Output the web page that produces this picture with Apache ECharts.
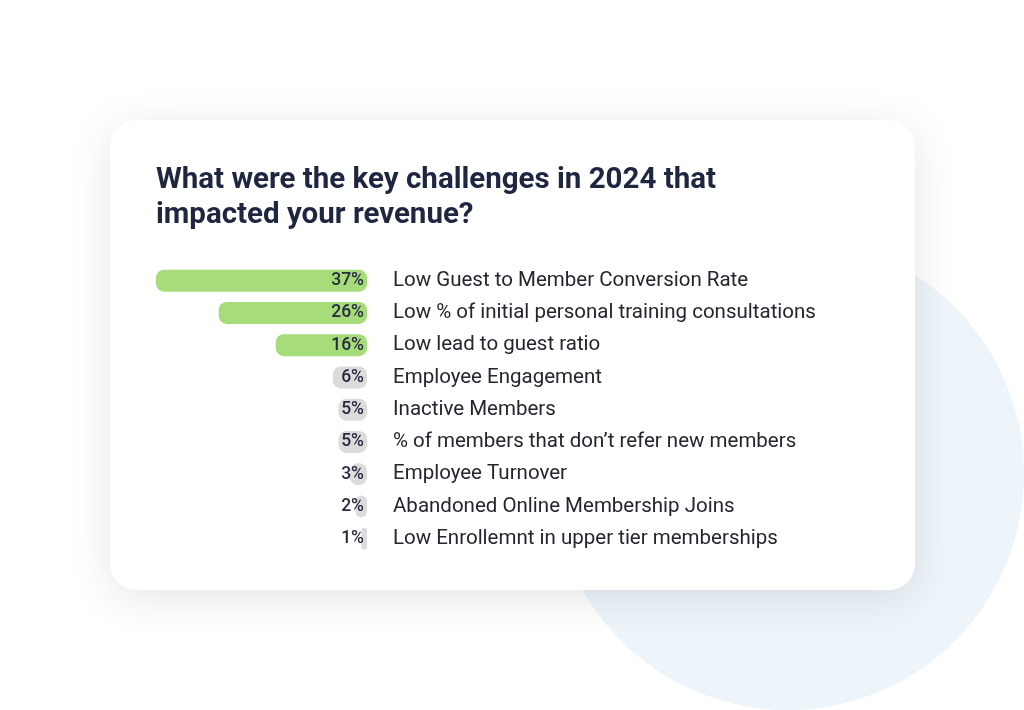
<!DOCTYPE html>
<html>
<head>
<meta charset="utf-8">
<script src="https://cdn.jsdelivr.net/npm/echarts@6/dist/echarts.min.js"></script>
<style>
html,body{margin:0;padding:0;background:#ffffff;}
#chart{width:1024px;height:710px;}
</style>
</head>
<body>
<div id="chart"></div>
<script>
const categories = [
  "Low Guest to Member Conversion Rate",
  "Low % of initial personal training consultations",
  "Low lead to guest ratio",
  "Employee Engagement",
  "Inactive Members",
  "% of members that don\u2019t refer new members",
  "Employee Turnover",
  "Abandoned Online Membership Joins",
  "Low Enrollemnt in upper tier memberships"
];
const values = [37, 26, 16, 6, 5, 5, 3, 2, 1];
const highlighted = [true, true, true, false, false, false, false, false, false];
const titleText = "What were the key challenges in 2024 that\nimpacted your revenue?";

const chart = echarts.init(document.getElementById('chart'), null, {renderer: 'canvas'});
const option = {
  backgroundColor: '#ffffff',
  animation: false,
  textStyle: {fontFamily: 'Roboto'},
  title: {
    text: titleText,
    left: 151,
    top: 158,
    textStyle: {fontFamily: 'Roboto', fontSize: 29.5, fontWeight: 'bold', color: '#1f2640', lineHeight: 35}
  },
  graphic: [
    {type: 'circle', z: -20, shape: {cx: 788, cy: 474, r: 236}, style: {fill: '#edf4fa'}},
    {type: 'rect', z: -10, shape: {x: 110, y: 120, width: 805, height: 470, r: 26},
     style: {fill: '#ffffff', shadowBlur: 45, shadowColor: 'rgba(0,0,0,0.10)', shadowOffsetY: 8}}
  ],
  grid: {left: 156, width: 211, top: 264.5, height: 290.25, containLabel: false},
  xAxis: {type: 'value', min: 0, max: 37, inverse: true, show: false},
  yAxis: {
    type: 'category', data: categories, inverse: true, position: 'right',
    axisLine: {show: false}, axisTick: {show: false}, splitLine: {show: false},
    axisLabel: {margin: 26, fontSize: 20.5, color: '#232530', fontFamily: 'Roboto', align: 'left'}
  },
  series: [{
    type: 'bar',
    barWidth: 22,
    data: values.map((v, i) => ({value: v, itemStyle: {color: highlighted[i] ? '#a6dc7a' : '#dcdcdc'}})),
    itemStyle: {borderRadius: 8},
    label: {
      show: true, position: 'insideRight', distance: 3, formatter: '{c}%',
      fontSize: 17.5, fontWeight: 500, color: '#262b40', fontFamily: 'Roboto'
    }
  }]
};
chart.setOption(option);
</script>
</body>
</html>
